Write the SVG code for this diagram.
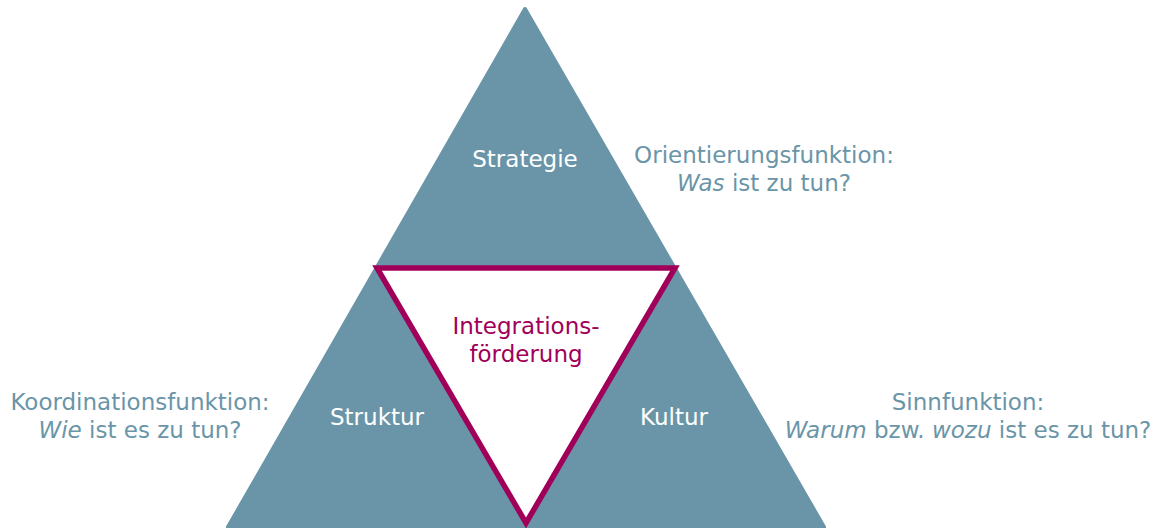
<svg xmlns="http://www.w3.org/2000/svg" width="1163" height="528" viewBox="0 0 1163 528">
<style>
.t{font-family:"DejaVu Sans",Verdana,sans-serif;font-size:23px;text-anchor:middle}
.w{fill:#ffffff}
.b{fill:#6a95a8}
.m{fill:#a0005a}
</style>
<rect width="1163" height="528" fill="#ffffff"/>
<g id="pyramid">
<polygon points="525,9 228,527 824,527" fill="#6a95a8" stroke="#6a95a8" stroke-width="4" stroke-linejoin="round"/>
</g>
<g id="integration">
<polygon points="377,268 675,268 526,523" fill="#ffffff" stroke="#a0005a" stroke-width="5.5" stroke-linejoin="miter"/>
<text class="t m" x="526" y="334">Integrations-</text>
<text class="t m" x="526" y="362">förderung</text>
</g>
<g id="strategie"><text class="t w" x="525" y="167">Strategie</text></g>
<g id="struktur"><text class="t w" x="377" y="425">Struktur</text></g>
<g id="kultur"><text class="t w" x="674" y="425">Kultur</text></g>
<g id="orientierung">
<text class="t b" x="764" y="163">Orientierungsfunktion:</text>
<text class="t b" x="764" y="191"><tspan font-style="italic">Was</tspan> ist zu tun?</text>
</g>
<g id="koordination">
<text class="t b" x="140" y="410">Koordinationsfunktion:</text>
<text class="t b" x="140" y="438"><tspan font-style="italic">Wie</tspan> ist es zu tun?</text>
</g>
<g id="sinn">
<text class="t b" x="968" y="410">Sinnfunktion:</text>
<text class="t b" x="968" y="438"><tspan font-style="italic">Warum</tspan> bzw. <tspan font-style="italic">wozu</tspan> ist es zu tun?</text>
</g>
<g id="connectors"/>
</svg>
